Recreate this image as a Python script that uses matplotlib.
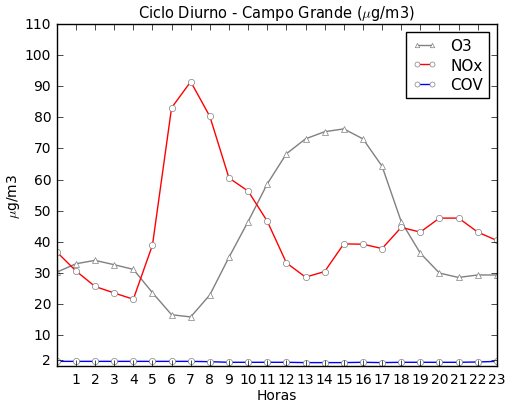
import matplotlib
matplotlib.use("Agg")
import matplotlib.pyplot as plt

plt.style.use("classic")

horas = list(range(24))

o3 = [30.2, 32.9, 34.0, 32.6, 31.1, 23.6, 16.5, 15.8, 22.9, 35.0, 46.5, 58.6,
      68.3, 73.1, 75.4, 76.3, 73.1, 64.3, 46.5, 36.3, 29.9, 28.5, 29.3, 29.3]
nox = [36.7, 30.6, 25.6, 23.5, 21.5, 38.9, 83.1, 91.5, 80.3, 60.5, 56.3, 46.6,
       33.2, 28.6, 30.4, 39.3, 39.2, 37.8, 44.6, 43.1, 47.6, 47.6, 43.1, 40.4]
cov = [1.5, 1.5, 1.5, 1.5, 1.5, 1.5, 1.5, 1.5, 1.4, 1.2, 1.2, 1.2,
       1.2, 1.1, 1.1, 1.1, 1.2, 1.1, 1.2, 1.2, 1.2, 1.2, 1.3, 1.5]

yticks = [2, 10, 20, 30, 40, 50, 60, 70, 80, 90, 100, 110]

fig = plt.figure(figsize=(5.07, 4.06), dpi=100)
ax = fig.add_axes([0.112, 0.096, 0.868, 0.842])

ax.plot(horas, o3, color="gray", marker="^", markerfacecolor="white",
        markeredgecolor="gray", markersize=4, label="O3")
ax.plot(horas, nox, color="red", marker="o", markerfacecolor="white",
        markeredgecolor="gray", markersize=4.5, label="NOx")
ax.plot(horas, cov, color="blue", marker="o", markerfacecolor="white",
        markeredgecolor="gray", markersize=4.5, label="COV")

ax.set_xlim(0, 23)
ax.set_ylim(0, 110)
ax.set_xticks(range(1, 24))
ax.set_yticks(yticks)
ax.tick_params(labelsize=10)
ax.set_xlabel("Horas", fontsize=10, labelpad=2)
ax.set_ylabel(r"$\mu$g/m3", fontsize=10, labelpad=2)
ax.set_title(r"Ciclo Diurno - Campo Grande ($\mu$g/m3)", fontsize=10.5)
ax.legend(loc="upper right", fontsize=11, numpoints=2, handlelength=1.6,
          handletextpad=0.9, labelspacing=0.3, borderpad=0.4,
          borderaxespad=0.5, markerscale=0.8)

fig.savefig("out.png", dpi=100)
